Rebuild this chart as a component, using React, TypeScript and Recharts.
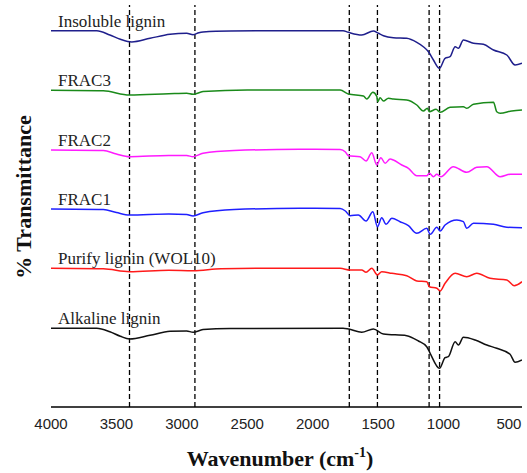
import { LineChart, Line, XAxis, YAxis, ReferenceLine } from 'recharts'

// FTIR spectra: [wavenumber, drop below the series baseline]
const insoluble = [
  [4000, 0], [3650, 0], [3550, 4.3], [3470, 8.6], [3383, 11.3], [3243, 7.6], [3090, 3.6],
  [2963, 2.6], [2914, 4], [2870, 2], [2838, 1.3], [2630, 0.3], [2100, 0], [1768, 0],
  [1727, 1.6], [1625, 4.3], [1536, 0.3], [1498, 2.6], [1459, 5], [1383, 7], [1281, 7.6],
  [1204, 11.6], [1154, 16], [1115, 21], [1077, 29.3], [1031, 37.6], [988, 27.6], [950, 26],
  [911, 16], [886, 17.6], [848, 9.3], [771, 12.6], [695, 13.6], [618, 19.3], [516, 24.3],
  [453, 34.3], [400, 32.6],
]
const frac3 = [
  [4000, 0], [3600, 0.5], [3400, 4.7], [3100, 3.5], [2963, 3], [2914, 4], [2838, 1.3],
  [2500, -0.3], [1790, -0.3], [1727, 3.7], [1612, 5.7], [1586, 8.7], [1540, 2], [1510, 6],
  [1502, 11.4], [1485, 7.4], [1459, 10.7], [1421, 8], [1383, 8.7], [1281, 9.7], [1204, 14.7],
  [1154, 20.7], [1123, 18], [1108, 21.4], [1057, 19], [1026, 22], [950, 17], [848, 16.4],
  [822, 18], [771, 14], [618, 12], [593, 21.4], [567, 23], [478, 20.7], [400, 19.7],
]
const frac2 = [
  [4000, 0], [3600, 0.5], [3500, 4], [3400, 6.7], [3100, 5.5], [2963, 5.5], [2914, 6.7],
  [2838, 3.3], [2600, 0.5], [2100, -0.7], [1790, -0.5], [1750, 2], [1727, 5.7], [1638, 6.7],
  [1592, 11], [1548, 2.7], [1510, 15], [1479, 7.7], [1446, 13.3], [1408, 9], [1383, 10],
  [1319, 15], [1268, 18.3], [1204, 25.7], [1128, 25.7], [1108, 23.3], [1077, 26.7],
  [1051, 24.3], [1021, 26.7], [925, 16.7], [822, 22.3], [746, 17.3], [669, 16.7], [567, 26.7],
  [491, 24.3], [400, 24.3],
]
const frac1 = [
  [4000, 0], [3600, 0.5], [3500, 3.5], [3400, 6], [3100, 5], [2963, 5.5], [2914, 7],
  [2838, 3.7], [2600, 0.5], [2100, -0.7], [1790, -0.5], [1750, 2], [1714, 6.7], [1651, 6],
  [1592, 12], [1540, 2.7], [1505, 17.7], [1472, 8.7], [1439, 15.3], [1395, 9.3], [1332, 12.7],
  [1268, 16.7], [1204, 24.3], [1128, 19.3], [1102, 25.3], [1051, 18.3], [1026, 22], [988, 16],
  [898, 11], [848, 12.7], [822, 19.3], [771, 14.3], [618, 15.3], [516, 18.3], [400, 18.7],
]
const purify = [
  [4000, 0], [3600, 0.5], [3400, 3.4], [3100, 2], [2914, 2.4], [2700, 0.5], [2300, 0],
  [1790, 0], [1714, 1.7], [1625, 1.7], [1592, 4], [1548, 0], [1505, 6.7], [1472, 3.4],
  [1395, 5], [1281, 7.4], [1204, 12.7], [1128, 13.4], [1108, 18.4], [1051, 20], [1026, 22.7],
  [988, 15], [911, 5], [822, 8.4], [746, 5], [644, 10], [516, 11.7], [460, 17.4], [400, 13.4],
]
const alkaline = [
  [4000, 0], [3650, 0], [3550, 3.5], [3470, 8], [3400, 10.7], [3243, 7], [3090, 3],
  [2963, 2.6], [2914, 4], [2838, 1.3], [2630, 0.3], [1768, 0], [1727, 0.7], [1625, 4],
  [1536, 0.7], [1459, 5.7], [1281, 7.4], [1192, 12.7], [1128, 18.4], [1102, 25], [1031, 40],
  [988, 29.4], [963, 28.4], [911, 13.4], [886, 16.7], [848, 9], [758, 11.7], [669, 16.7],
  [593, 20], [491, 26], [453, 34], [400, 31.7],
]

const seriesNames = ['Insoluble lignin', 'FRAC3', 'FRAC2', 'FRAC1', 'Purify lignin (WOL10)', 'Alkaline lignin']
const seriesSpectra = [insoluble, frac3, frac2, frac1, purify, alkaline]
const seriesOffsets = [376.3, 316.7, 257, 198, 138.7, 78.7]
const seriesColors = ['#1f1f8c', '#1a8a1a', '#ff1aff', '#1f1fff', '#ff1a1a', '#111111']

const xTicks = [4000, 3500, 3000, 2500, 2000, 1500, 1000, 500]
const bands = [3400, 2900, 1720, 1505, 1110, 1030]

const serif = '"Liberation Serif", "Times New Roman", serif'

export default function App() {
  const series = seriesSpectra.map((spec, i) => ({
    name: seriesNames[i],
    color: seriesColors[i],
    data: spec.map(([x, drop]) => ({ x, y: seriesOffsets[i] - drop })),
  }))

  return (
    <div style={{ position: 'absolute', left: 0, top: 0, background: '#fff' }}>
      <LineChart
        width={527}
        height={473}
        margin={{ top: 5, right: 5, left: 51, bottom: 0 }}
      >
        <XAxis
          type="number"
          dataKey="x"
          domain={[400, 4000]}
          reversed
          ticks={xTicks}
          allowDataOverflow
          tickLine={false}
          tickSize={0}
          tickMargin={11}
          height={66}
          axisLine={{ stroke: '#000', strokeWidth: 1.6 }}
          tick={{ fill: '#222', fontSize: 15, fontFamily: '"Liberation Sans", Arial, sans-serif' }}
        />
        <XAxis
          xAxisId="top"
          orientation="top"
          type="number"
          domain={[400, 4000]}
          reversed
          tick={false}
          tickLine={false}
          height={0}
          axisLine={{ stroke: '#000', strokeWidth: 1.6 }}
        />
        <YAxis
          type="number"
          domain={[0, 402]}
          allowDataOverflow
          tick={false}
          tickLine={false}
          width={0}
          axisLine={{ stroke: '#000', strokeWidth: 1.6 }}
        />
        <YAxis
          yAxisId="right"
          orientation="right"
          type="number"
          domain={[0, 402]}
          tick={false}
          tickLine={false}
          width={0}
          axisLine={{ stroke: '#000', strokeWidth: 1.6 }}
        />

        {bands.map((b) => (
          <ReferenceLine key={b} x={b} stroke="#000" strokeWidth={1.3} strokeDasharray="5 3" />
        ))}

        {series.map((s) => (
          <Line
            key={s.name}
            data={s.data}
            dataKey="y"
            type="monotone"
            stroke={s.color}
            strokeWidth={1.5}
            dot={false}
            isAnimationActive={false}
            label={(p: any) =>
              p.index === 0 ? (
                <text
                  key={s.name}
                  x={p.x + 7}
                  y={p.y - 4}
                  fontFamily={serif}
                  fontSize={17}
                  fill="#222"
                >
                  {s.name}
                </text>
              ) : (
                <g key={`${s.name}-${p.index}`} />
              )
            }
          />
        ))}

        <text
          x={280}
          y={466}
          textAnchor="middle"
          fontFamily={serif}
          fontWeight="bold"
          fontSize={22}
          fill="#111"
        >
          Wavenumber (cm
          <tspan fontSize={14} dy={-9}>-1</tspan>
          <tspan dy={9}>)</tspan>
        </text>
        <text
          transform="translate(31, 197) rotate(-90)"
          textAnchor="middle"
          fontFamily={serif}
          fontWeight="bold"
          fontSize={22}
          fill="#111"
        >
          % Transmittance
        </text>
      </LineChart>
    </div>
  )
}
